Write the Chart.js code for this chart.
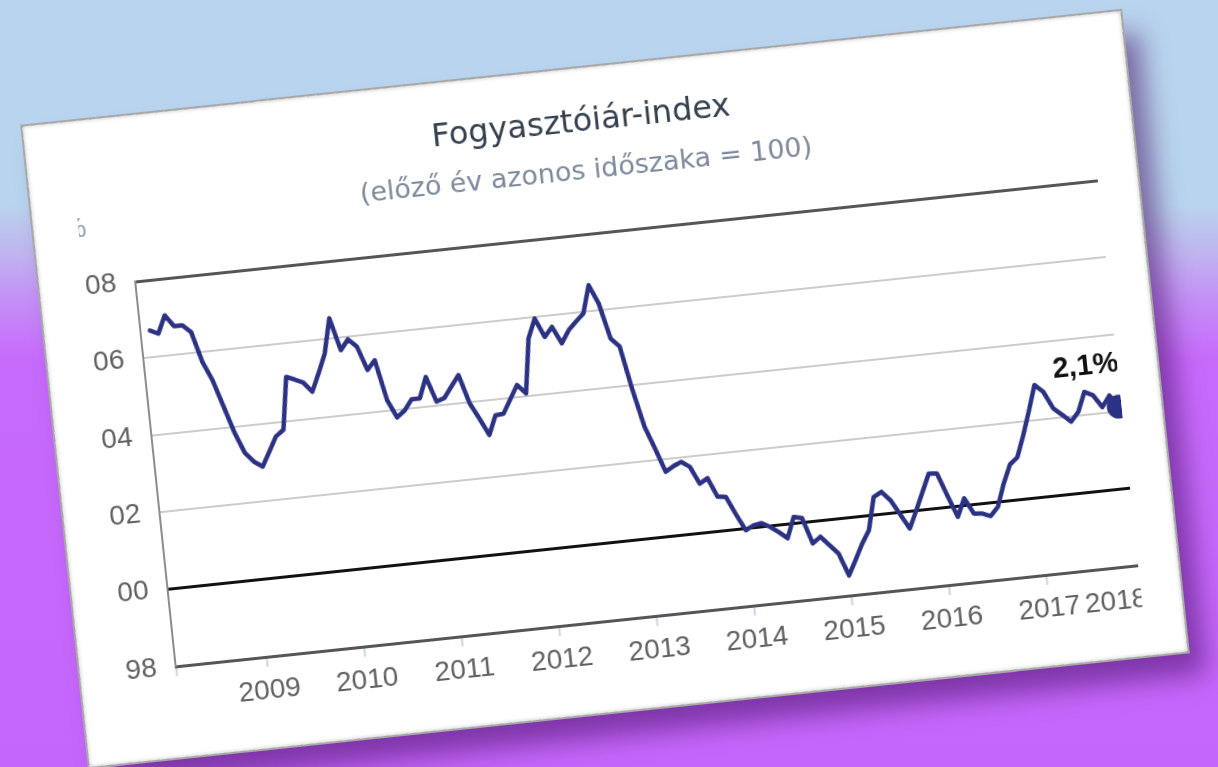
<!DOCTYPE html>
<html><head><meta charset="utf-8">
<script src="https://cdn.jsdelivr.net/npm/chart.js@4.4.0/dist/chart.umd.min.js"></script>
<style>
html,body{margin:0;padding:0;width:1218px;height:767px;overflow:hidden;}
body{background:linear-gradient(180deg,#b9d4ee 0px,#b9d4ee 205px,#c0b3f0 255px,#c48ff6 300px,#c66afb 360px,#c566fb 767px);}
#card{position:absolute;left:53px;top:67px;width:1104px;height:644px;background:#fff;transform:rotate(-6deg);transform-origin:50% 50%;
 box-shadow:0 0 0 2px #a8a8a8, inset 0 0 4px rgba(0,0,0,0.25), 16px 24px 26px rgba(70,15,100,0.55);}
#clip{position:absolute;left:45px;top:0;width:1019px;height:644px;overflow:hidden;}
#wrap{position:absolute;left:-37px;top:0;width:1096px;height:644px;}
</style></head>
<body>
<div id="card"><div id="clip"><div id="wrap"><canvas id="c"></canvas></div></div></div>
<script>
const chartTitle = 'Fogyasztóiár-index';
const chartSubtitle = '(előző év azonos időszaka = 100)';
const axisUnit = '%';
const lastLabel = '2,1%';
const yearTicks = [2009, 2010, 2011, 2012, 2013, 2014, 2015, 2016, 2017, 2018];
const yearLabels = ['2009', '2010', '2011', '2012', '2013', '2014', '2015', '2016', '2017', '2018'];
const yTicks = [98, 100, 102, 104, 106, 108];
const yLabels = ['98', '100', '102', '104', '106', '108'];
// monthly values (previous year same period = 100)
const cpi2008 = [106.7, 106.6, 107.05, 106.75, 106.75, 106.55, 105.75, 105.25, 104.55, 103.85]; // Mar-Dec
const cpi2009 = [103.3, 103.05, 102.9, 103.27, 103.64, 103.79, 105.14, 105.05, 104.95, 104.69, 105.15, 105.64];
const cpi2010 = [106.53, 105.68, 105.94, 105.73, 105.1, 105.33, 104.27, 103.8, 103.96, 104.23, 104.23, 104.76];
const cpi2011 = [104.1, 104.17, 104.45, 104.72, 103.97, 103.55, 103.1, 103.59, 103.61, 103.96, 104.31, 104.07];
const cpi2012 = [105.47, 105.97, 105.47, 105.71, 105.26, 105.58, 105.78, 105.97, 106.68, 106.18, 105.25, 105.02];
const cpi2013 = [103.87, 102.89, 102.3, 101.68, 101.8, 101.89, 101.74, 101.28, 101.4, 100.9, 100.87, 100.4];
const cpi2014 = [99.96, 100.06, 100.1, 99.98, 99.82, 99.64, 100.17, 100.12, 99.44, 99.59, 99.35, 99.11];
const cpi2015 = [98.52, 98.9, 99.3, 99.63, 100.47, 100.58, 100.34, 99.95, 99.56, 100.0, 100.46, 100.92];
const cpi2016 = [100.9, 100.3, 99.73, 100.19, 99.77, 99.75, 99.66, 99.88, 100.46, 100.93, 101.1, 101.65];
const cpi2017 = [102.26, 102.91, 102.71, 102.26, 102.07, 101.87, 102.1, 102.6, 102.49, 102.16, 102.44, 102.13];
const xStart = 2008.07;

const yearSeries = [[2008, 3, cpi2008], [2009, 1, cpi2009], [2010, 1, cpi2010], [2011, 1, cpi2011], [2012, 1, cpi2012],
  [2013, 1, cpi2013], [2014, 1, cpi2014], [2015, 1, cpi2015], [2016, 1, cpi2016], [2017, 1, cpi2017]];
const points = [];
yearSeries.forEach(([yr, m0, arr]) => arr.forEach((v, i) => points.push({x: yr + (m0 - 1 + i) / 12, y: v})));

const lineColor = '#2c3283';
const labelPlugin = {
  id: 'extraText',
  afterDatasetsDraw(chart) {
    const meta = chart.getDatasetMeta(0);
    const p = meta.data[meta.data.length - 1];
    const ctx = chart.ctx;
    ctx.save();
    ctx.font = 'bold 29px "Liberation Sans"';
    ctx.fillStyle = '#111';
    ctx.textAlign = 'left';
    ctx.textBaseline = 'middle';
    ctx.fillText(lastLabel, p.x - 62, p.y - 43);
    ctx.font = '28px "Liberation Sans"';
    ctx.fillStyle = '#8b9cb5';
    ctx.textAlign = 'right';
    ctx.fillText(axisUnit, chart.chartArea.left - 43, chart.chartArea.top - 58);
    ctx.restore();
  }
};

new Chart(document.getElementById('c'), {
  type: 'line',
  data: {datasets: [{
    data: points,
    borderColor: lineColor,
    borderWidth: 4.5,
    borderJoinStyle: 'round',
    borderCapStyle: 'round',
    tension: 0,
    pointRadius: c => c.dataIndex === points.length - 1 ? 12 : 0,
    pointBackgroundColor: lineColor,
    pointBorderWidth: 0,
    clip: false
  }]},
  options: {
    responsive: true, maintainAspectRatio: false, animation: false, devicePixelRatio: 1,
    layout: {padding: {left: 0, right: 0, top: 0, bottom: 31}},
    plugins: {
      legend: {display: false}, tooltip: {enabled: false},
      title: {display: true, text: chartTitle, color: '#35404e', font: {family: 'DejaVu Sans', size: 32, weight: 'normal', lineHeight: 1.2}, padding: {top: 35.8, bottom: 0}},
      subtitle: {display: true, text: chartSubtitle, color: '#7d899a', font: {family: 'DejaVu Sans', size: 27, lineHeight: 1.2}, padding: {top: 13.6, bottom: 45.8}}
    },
    scales: {
      x: {
        type: 'linear', min: xStart, max: 2018,
        afterBuildTicks: s => { s.ticks = [{value: xStart}].concat(yearTicks.map(v => ({value: v}))); },
        afterFit: s => { s.height = 60; },
        ticks: {autoSkip: false, maxRotation: 0, minRotation: 0, align: 'inner', padding: 7, color: '#606060',
          font: {family: 'Liberation Sans', size: 28, lineHeight: 1.2},
          callback: v => { const i = yearTicks.indexOf(v); return i < 0 ? '' : yearLabels[i]; }},
        grid: {drawOnChartArea: false, drawTicks: true, tickLength: 10, tickColor: '#c9d3e3', tickWidth: 2},
        border: {display: true, color: '#555555', width: 3}
      },
      y: {
        min: 98, max: 108,
        afterBuildTicks: s => { s.ticks = yTicks.map(v => ({value: v})); },
        afterFit: s => { s.width = 88; },
        ticks: {padding: 19, color: '#606060', font: {family: 'Liberation Sans', size: 28, lineHeight: 1.2},
          callback: v => yLabels[yTicks.indexOf(v)]},
        grid: {drawTicks: false,
          color: c => c.tick.value === 100 ? '#111111' : (c.tick.value === 108 || c.tick.value === 98) ? '#555555' : '#cccccc',
          lineWidth: c => (c.tick.value === 100 || c.tick.value === 108) ? 3 : 2},
        border: {display: true, color: '#8c8c8c', width: 2}
      },
      yRight: {
        position: 'right', min: 98, max: 108,
        afterFit: s => { s.width = 34.7; },
        ticks: {display: false},
        grid: {display: false, drawTicks: false},
        border: {display: false}
      }
    }
  },
  plugins: [labelPlugin]
});
</script>
</body></html>
